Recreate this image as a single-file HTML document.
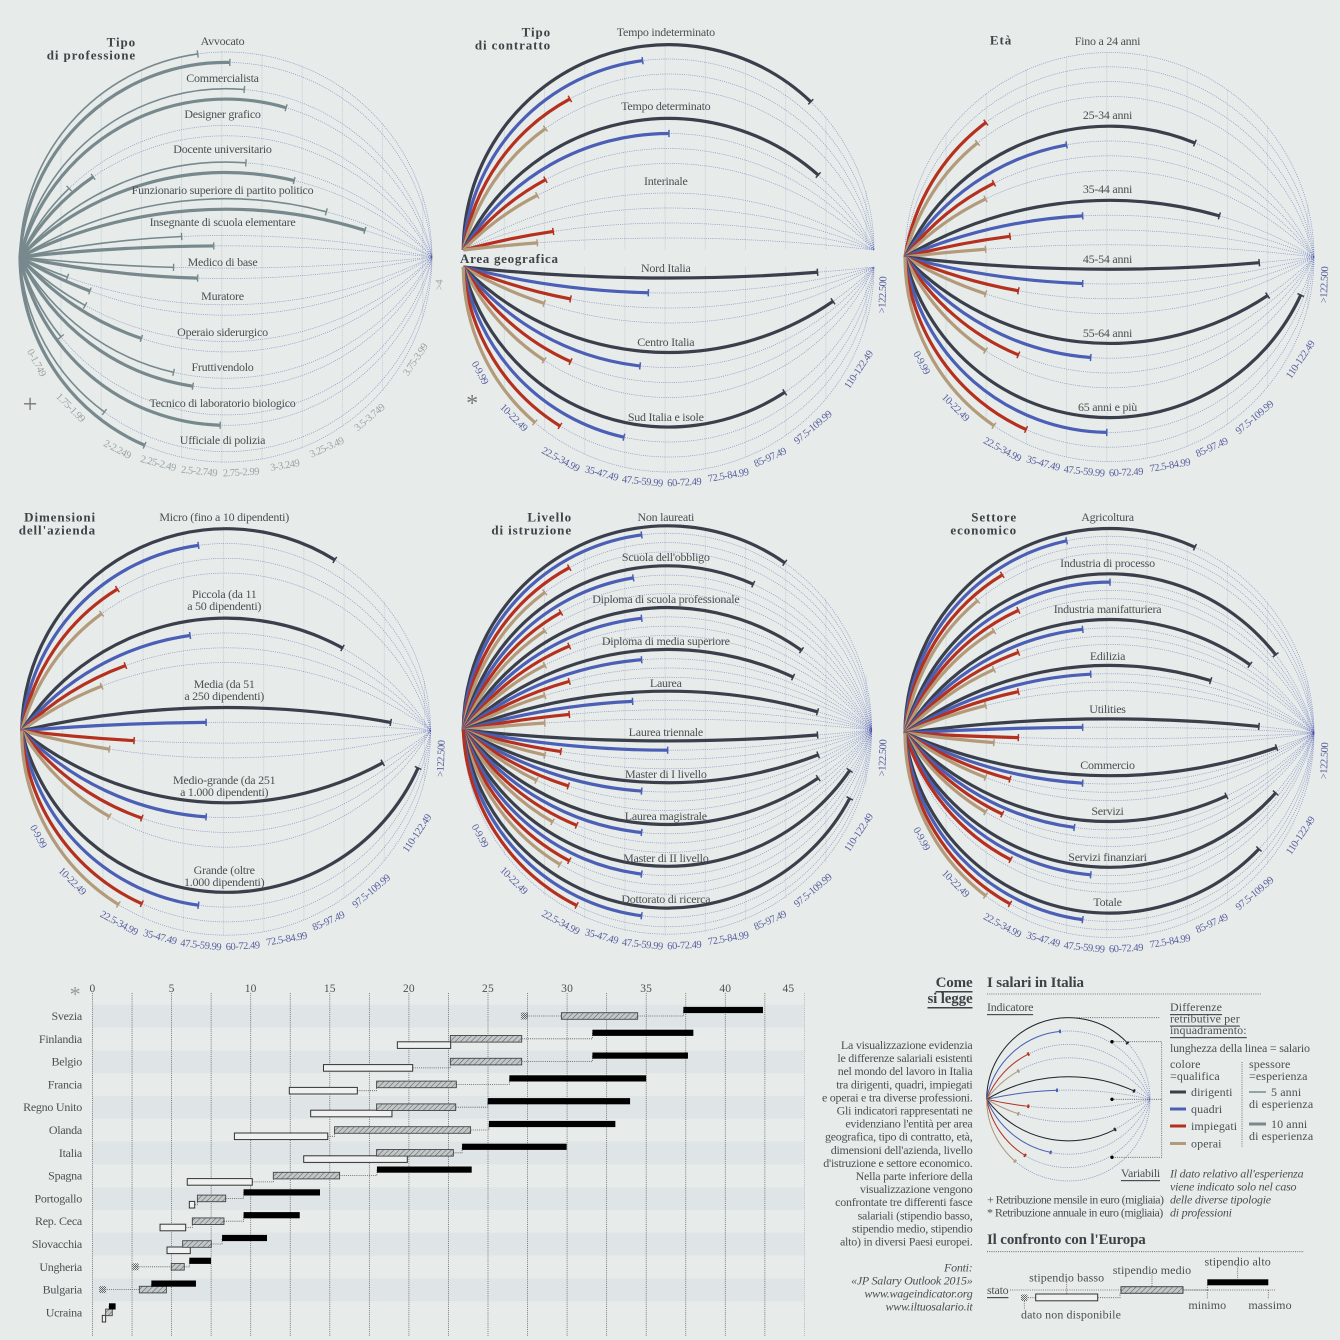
<!DOCTYPE html>
<html lang="it">
<head>
<meta charset="utf-8">
<title>I salari in Italia</title>
<style>
html,body{margin:0;padding:0;background:#e7ecea;}
svg{display:block;}
text{font-family:"Liberation Serif",serif;fill:#4b5053;font-size:12px;letter-spacing:-.25px;dominant-baseline:central;}
.title{font-weight:bold;font-size:13px;letter-spacing:.9px;fill:#3d4346;}
.h2{font-weight:bold;font-size:15px;letter-spacing:-.15px;fill:#3d4346;}
.u{text-decoration:underline;}
.i{font-style:italic;}
.end{text-anchor:end;}
.mid{text-anchor:middle;}
.w{letter-spacing:.1px;}
.n{letter-spacing:-.55px;}
</style>
</head>
<body>
<svg id="chart" xmlns="http://www.w3.org/2000/svg" width="1340" height="1340" viewBox="0 0 1340 1340">
<defs>
<pattern id="hatch" width="3.7" height="3.7" patternUnits="userSpaceOnUse" patternTransform="rotate(45)">
<rect width="3.7" height="3.7" fill="#c2c8c8"/>
<line x1="0" y1="0" x2="0" y2="3.7" stroke="#555b5e" stroke-width="1"/>
</pattern>
<pattern id="ndhatch" width="2" height="2" patternUnits="userSpaceOnUse">
<rect width="1" height="1" fill="#666"/><rect x="1" y="1" width="1" height="1" fill="#666"/>
</pattern>
</defs>
<rect width="1340" height="1340" fill="#e7ecea"/>
<g id="panels"></g>
<g id="bars"></g>

<g>
<text class="title end" x="136" y="42">Tipo</text>
<text class="title end" x="136" y="55">di professione</text>
<text class="title end" x="551" y="32">Tipo</text>
<text class="title end" x="551" y="45">di contratto</text>
<text class="title" x="460" y="258.5" style="letter-spacing:.7px">Area geografica</text>
<text class="title mid" x="1001" y="40">Età</text>
<text class="title end" x="96" y="517">Dimensioni</text>
<text class="title end" x="96" y="530">dell'azienda</text>
<text class="title end" x="572" y="517">Livello</text>
<text class="title end" x="572" y="530">di istruzione</text>
<text class="title end" x="1017" y="517">Settore</text>
<text class="title end" x="1017" y="530">economico</text>
<text x="30" y="404" class="mid" style="font-size:26px;fill:#777">+</text>
<text x="472" y="404" class="mid" style="font-size:24px;fill:#777">*</text>
<text x="75" y="994" class="mid" style="font-size:22px;fill:#999">*</text>
</g>

<g id="legend">
<text class="h2 end u" x="972.5" y="983">Come</text>
<text class="h2 end u" x="972.5" y="999">si legge</text>
<text class="end" y="1045"><tspan x="972.5">La visualizzazione evidenzia</tspan><tspan x="972.5" dy="13.1">le differenze salariali esistenti</tspan><tspan x="972.5" dy="13.1">nel mondo  del lavoro in Italia</tspan><tspan x="972.5" dy="13.1">tra dirigenti, quadri, impiegati</tspan><tspan x="972.5" dy="13.1">e operai e tra diverse professioni.</tspan><tspan x="972.5" dy="13.1">Gli indicatori rappresentati ne</tspan><tspan x="972.5" dy="13.1">evidenziano l'entità per area</tspan><tspan x="972.5" dy="13.1">geografica, tipo di contratto, età,</tspan><tspan x="972.5" dy="13.1">dimensioni dell'azienda, livello</tspan><tspan x="972.5" dy="13.1">d'istruzione e settore economico.</tspan><tspan x="972.5" dy="13.1">Nella parte inferiore della</tspan><tspan x="972.5" dy="13.1">visualizzazione vengono</tspan><tspan x="972.5" dy="13.1">confrontate tre differenti fasce</tspan><tspan x="972.5" dy="13.1">salariali (stipendio basso,</tspan><tspan x="972.5" dy="13.1">stipendio medio, stipendio</tspan><tspan x="972.5" dy="13.1">alto) in diversi Paesi europei.</tspan></text>
<text class="end i" y="1267.3"><tspan x="972.5">Fonti:</tspan><tspan x="972.5" dy="13.1">«JP Salary Outlook 2015»</tspan><tspan x="972.5" dy="13.1">www.wageindicator.org</tspan><tspan x="972.5" dy="13.1">www.iltuosalario.it</tspan></text>

<text class="h2" x="987" y="983">I salari in Italia</text>
<line x1="987" y1="994" x2="1262" y2="994" stroke="#555" stroke-width=".8" stroke-dasharray="1 1.2"/>
<text class="u" x="987" y="1007">Indicatore</text>
<g id="mini"></g>
<g fill="none" stroke="#555" stroke-width=".8" stroke-dasharray="1 1.2">
<path d="M1068 1017.7H1160"/>
<path d="M1112 1041.7H1161.7V1157.3H1112M1112 1099.3H1161.7"/>
</g>
<circle cx="1112" cy="1041.7" r="1.7" fill="#000"/>
<circle cx="1112" cy="1099.3" r="1.7" fill="#000"/>
<circle cx="1112" cy="1157.3" r="1.7" fill="#000"/>
<text class="u end" x="1160" y="1173">Variabili</text>
<text class="u w" x="1170" y="1007">Differenze</text>
<text class="u w" x="1170" y="1018.5">retributive per</text>
<text class="u w" x="1170" y="1030">inquadramento:</text>
<text x="1170" y="1048" style="letter-spacing:-.2px">lunghezza della linea = salario</text>
<text class="w" x="1170" y="1064">colore</text>
<text class="w" x="1170" y="1076">=qualifica</text>
<line x1="1170" x2="1186" y1="1092" y2="1092" stroke="#3a3f4b" stroke-width="3"/>
<text class="w" x="1191" y="1092">dirigenti</text>
<line x1="1170" x2="1186" y1="1109" y2="1109" stroke="#4a5fb5" stroke-width="3"/>
<text class="w" x="1191" y="1109">quadri</text>
<line x1="1170" x2="1186" y1="1126" y2="1126" stroke="#b5301f" stroke-width="3"/>
<text class="w" x="1191" y="1126">impiegati</text>
<line x1="1170" x2="1186" y1="1143.5" y2="1143.5" stroke="#b39a7a" stroke-width="3"/>
<text class="w" x="1191" y="1143.5">operai</text>
<line x1="1242" x2="1242" y1="1062" y2="1147" stroke="#555" stroke-width=".8" stroke-dasharray="1 1.2"/>
<text class="w" x="1249" y="1064">spessore</text>
<text class="w" x="1249" y="1076">=esperienza</text>
<line x1="1249" x2="1266" y1="1092" y2="1092" stroke="#78898e" stroke-width="1.4"/>
<text class="w" x="1271" y="1092">5 anni</text>
<text class="w" x="1249" y="1104">di esperienza</text>
<line x1="1249" x2="1266" y1="1124" y2="1124" stroke="#78898e" stroke-width="3"/>
<text class="w" x="1271" y="1124">10 anni</text>
<text class="w" x="1249" y="1136">di esperienza</text>
<text class="n" x="987" y="1199.3">+ Retribuzione mensile in euro (migliaia)</text>
<text class="n" x="987" y="1212.7">* Retribuzione annuale in euro (migliaia)</text>
<text class="i" y="1173.3"><tspan x="1170">Il dato relativo all'esperienza</tspan><tspan x="1170" dy="13">viene indicato solo nel caso</tspan><tspan x="1170" dy="13">delle diverse tipologie</tspan><tspan x="1170" dy="13">di professioni</tspan></text>
<text class="h2" x="987" y="1240">Il confronto con l'Europa</text>
<line x1="987" y1="1251.7" x2="1304" y2="1251.7" stroke="#555" stroke-width=".8" stroke-dasharray="1 1.2"/>
<text class="u" x="987" y="1290">stato</text>
<line x1="1010" y1="1290" x2="1275" y2="1290" stroke="#555" stroke-width=".8" stroke-dasharray="1 1.2"/>
<path d="M1028 1297.7H1035.7M1097.7 1297.7H1120V1293M1183 1290H1207.3V1285M1024.3 1301V1309M1066.7 1279.5V1294M1152 1272V1286.7M1237.7 1264V1279.3M1207.3 1290V1299M1268.3 1290V1299" fill="none" stroke="#555" stroke-width=".8" stroke-dasharray="1 1.2"/>
<rect x="1021" y="1294.5" width="6.5" height="6.5" fill="url(#ndhatch)"/>
<rect x="1035.7" y="1294" width="62" height="6.8" fill="#eef1ef" stroke="#333"/>
<rect x="1121" y="1286.7" width="62" height="6.6" fill="url(#hatch)" stroke="#444"/>
<rect x="1207.3" y="1279.3" width="61" height="6" fill="#000"/>
<text class="mid w" x="1066.7" y="1277.7">stipendio basso</text>
<text class="mid w" x="1152" y="1270">stipendio medio</text>
<text class="mid w" x="1237.7" y="1261.7">stipendio alto</text>
<text class="mid w" x="1207.3" y="1305">minimo</text>
<text class="mid w" x="1270" y="1305">massimo</text>
<text class="w" x="1021" y="1314.3">dato non disponibile</text>
</g>
</svg>

<script>
// ---------- axis labels ----------
const monthlyTicks = ['0-1.749','1.75-1.99','2-2.249','2.25-2.49','2.5-2.749','2.75-2.99','3-3.249','3.25-3.49','3.5-3.749','3.75-3.99','>4'];
const annualTicks = ['0-9.99','10-22.49','22.5-34.99','35-47.49','47.5-59.99','60-72.49','72.5-84.99','85-97.49','97.5-109.99','110-122.49','>122.500'];

// ---------- tipo di professione (monthly, thousand euro) ----------
const professionCats = ['Avvocato','Commercialista','Designer grafico','Docente universitario','Funzionario superiore di partito politico','Insegnante di scuola elementare','Medico di base','Muratore','Operaio siderurgico','Fruttivendolo','Tecnico di laboratorio biologico','Ufficiale di polizia'];
const professionExp5 = [2.60,2.89,1.80,2.90,3.40,2.50,2.45,1.79,1.90,2.45,1.75,2.02];
const professionExp10 = [2.80,3.15,1.95,3.20,3.64,2.70,2.60,1.93,2.25,2.57,2.74,2.27];

// ---------- tipo di contratto (annual, thousand euro) ----------
const contractCats = ['Tempo indeterminato','Tempo determinato','Interinale'];
const contractDirigenti = [105.3,107.6,null];
const contractQuadri = [53.0,61.2,null];
const contractImpiegati = [30.4,22.8,25.2];
const contractOperai = [22.8,20.25,20.25];

// ---------- area geografica ----------
const areaCats = ['Nord Italia','Centro Italia','Sud Italia e isole'];
const areaDirigenti = [107.4,112.2,97.2];
const areaQuadri = [54.8,52.2,47.2];
const areaImpiegati = [30.6,30.6,27.3];
const areaOperai = [22.4,22.4,19.5];

// ---------- età ----------
const ageCats = ['Fino a 24 anni','25-34 anni','35-44 anni','45-54 anni','55-64 anni','65 anni e più'];
const ageDirigenti = [null,87.4,95,107.4,110,120.3];
const ageQuadri = [null,47.5,52.5,52.5,55,60];
const ageImpiegati = [22.4,24.9,29.9,32.5,32.5,34.9];
const ageOperai = [19.8,22.3,22.3,22.3,22.3,24.9];

// ---------- dimensioni dell'azienda ----------
const sizeCats = ['Micro (fino a 10 dipendenti)','Piccola (da 11\na 50 dipendenti)','Media (da 51\na 250 dipendenti)','Medio-grande (da 251\na 1.000 dipendenti)','Grande (oltre\n1.000 dipendenti)'];
const sizeDirigenti = [94.6,97,112,109.5,120.5];
const sizeQuadri = [52.2,49.6,54.6,54.6,52.2];
const sizeImpiegati = [27,29.5,32.2,34.6,34.6];
const sizeOperai = [22.1,22.1,24.5,24.5,27.3];

// ---------- livello di istruzione ----------
const eduCats = ['Non laureati',"Scuola dell'obbligo",'Diploma di scuola professionale','Diploma di media superiore','Laurea','Laurea triennale','Master di I livello','Laurea magistrale','Master di II livello','Dottorato di ricerca'];
const eduDirigenti = [97.2,87.4,102.4,99.8,107.4,107.4,107.6,107.6,117.4,117.4];
const eduQuadri = [52.7,50.1,52.7,52.7,49.9,60.8,52.7,52.7,52.7,52.7];
const eduImpiegati = [30.2,27.6,30.2,30.2,30.2,27.6,29.9,32.5,30.2,32.5];
const eduOperai = [22.6,22.6,22.6,22.6,22.6,22.6,20,25,27.3,null];

// ---------- settore economico ----------
const sectorCats = ['Agricoltura','Industria di processo','Industria manifatturiera','Edilizia','Utilities','Commercio','Servizi','Servizi finanziari','Totale'];
const sectorDirigenti = [87.4,112.5,104.5,92.3,107.3,112.8,97.2,112.5,107.3];
const sectorQuadri = [47.5,61,52.5,55,52.5,52.5,49.9,55,52.5];
const sectorImpiegati = [27.5,32.5,32.5,32.5,32.5,29.9,27.5,30.1,29.9];
const sectorOperai = [19.8,24.9,24.9,22.3,24.9,22.3,22.3,null,22.3];

// ---------- legend mini chart ----------
const miniDirigenti = [107.3,112.5,97.6];
const miniQuadri = [54.6,52.3,47.3];
const miniImpiegati = [29.8,29.8,27.2];
const miniOperai = [22,22,19.4];

// ---------- europe (annual, thousand euro) ----------
const countries = ['Svezia','Finlandia','Belgio','Francia','Regno Unito','Olanda','Italia','Spagna','Portogallo','Rep. Ceca','Slovacchia','Ungheria','Bulgaria','Ucraina'];
const lowMin = [27.3,19.27,14.6,12.44,13.79,8.97,13.35,5.99,6.12,4.27,4.71,2.7,0.64,0.62];
const lowMax = [null,22.64,20.24,16.74,18.93,14.87,19.9,10.1,6.46,5.89,6.18,null,null,0.83];
const midMin = [29.64,22.62,22.62,17.96,17.96,15.3,17.96,11.43,6.63,6.31,5.7,4.98,2.96,0.83];
const midMax = [34.46,27.13,27.13,23.0,22.96,23.9,22.81,15.62,8.42,8.31,7.51,5.8,4.67,1.25];
const highMin = [37.35,31.6,31.6,26.35,24.98,25.06,23.36,17.98,9.55,9.55,8.19,6.12,3.72,1.04];
const highMax = [42.38,37.98,37.64,35.0,33.98,33.05,29.97,23.97,14.38,13.1,11.03,7.49,6.54,1.46];
const axisTicks = [0,5,10,15,20,25,30,35,40,45];

// ---------- drawing ----------
const NS = 'http://www.w3.org/2000/svg';
const COL4 = ['#3a3f4b','#4a5fb5','#b5301f','#b39a7a'];
const COL2 = ['#78898e','#78898e'];
const tickDx = [16,50,97,138,179,221,265,307,350,396,420];
const tickDy = [106,151,193,207,215,216,209,191,161,103,28];
const tickRot = [62,45,28,15,6,-3,-10,-24,-40,-56,-88];

function mk(tag, attrs, parent, txt){
  const e = document.createElementNS(NS, tag);
  for (const k in attrs) e.setAttribute(k, attrs[k]);
  if (txt !== undefined) e.textContent = txt;
  parent.appendChild(e);
  return e;
}
const scaleAnnual = v => v < 10 ? v * 4.1 : 41 + (v - 10) / 12.5 * 40.2;
const scaleMonthly = v => v < 1.75 ? v / 1.75 * 41 : 41 + (v - 1.75) / 0.25 * 40.2;

function apex(cfg, g, j, nG, nL){
  let off;
  const inTop = cfg.side === 'top' || (cfg.side !== 'bottom' && g < (nG - 1) / 2);
  if (!cfg.side && nG % 2 === 1 && g === (nG - 1) / 2){
    const d = j - (nL - 1) / 2;
    off = d * cfg.s + Math.sign(d) * cfg.midGap / 2;
  } else if (inTop){
    off = -cfg.rad + g * cfg.gs + j * cfg.s;
  } else {
    off = cfg.rad - (nG - 1 - g) * cfg.gs - (nL - 1 - j) * cfg.s;
  }
  return off + (cfg.shift || 0);
}

function drawPanel(host, panelName, cats, series, cfg){
  const root = mk('g', {}, host);
  
  
  const a = (cfg.xr - cfg.xl) / 2;
  const mx = cfg.xl + a;
  const factor = cfg.factor || 1;
  const nL = series.length;
  const nG = cats.length;
  const gridRad = Math.max(a, cfg.rad);
  if (!cfg.noGrid) {
    for (let k = 1; k <= 10; k++){
      const x = cfg.xl + 40.2 * k + 0.8;
      const h = Math.sqrt(Math.max(0, gridRad * gridRad - (x - mx) * (x - mx)));
      const y1 = cfg.side === 'bottom' ? cfg.cy : cfg.cy - h;
      const y2 = cfg.side === 'top' ? cfg.cy : cfg.cy + h;
      const gl = mk('line', {x1:x, x2:x, y1:y1, y2:y2, stroke:'#c7d0da', 'stroke-width':.9, 'stroke-dasharray':'1 .6'}, root);
      
      
    }
  }
  const curves = [];
  for (let g = 0; g < nG; g++){
    for (let j = 0; j < nL; j++){
      const off = apex(cfg, g, j, nG, nL);
      const s = Math.min(a, Math.max(0.4, Math.abs(off)));
      const up = off < 0;
      const r = (a * a + s * s) / (2 * s);
      const cyc = up ? cfg.cy + (r - s) : cfg.cy - (r - s);
      curves.push({g, j, up, r, cyc});
      const dot = mk('path', {d:`M${cfg.xl} ${cfg.cy}A${r} ${r} 0 0 ${up?1:0} ${cfg.xr} ${cfg.cy}`, fill:'none', stroke:'#3f4aa8', 'stroke-width':cfg.dotW||.75, 'stroke-dasharray':'1 1.15', 'stroke-opacity':cfg.dotO||.55}, root);
      
      
    }
  }
  curves.forEach(c => {
    const v = series[c.j][c.g];
    if (v === null) return;
    const x = cfg.xl + cfg.scale(v) * factor;
    const dx = x - mx;
    const h = Math.sqrt(Math.max(0, c.r * c.r - dx * dx));
    const y = c.up ? c.cyc - h : c.cyc + h;
    const line = mk('path', {d:`M${cfg.xl} ${cfg.cy}A${c.r} ${c.r} 0 0 ${c.up?1:0} ${x} ${y}`, fill:'none', stroke:cfg.colors[c.j], 'stroke-width':cfg.widths[c.j]}, root);
    
    
    const nx = dx / c.r, ny = (y - c.cyc) / c.r, t = cfg.tick || 3.6;
    const tick = mk('line', {x1:x - nx * t, y1:y - ny * t, x2:x + nx * t, y2:y + ny * t, stroke:cfg.colors[c.j], 'stroke-width':cfg.tickW || 1.5}, root);
    
    
  });
  if (cfg.labelY) {
    cats.forEach((cat, g) => {
      const lines = cat.split('\n');
      lines.forEach((ln, i) => {
        const tx = mk('text', {x:cfg.xl + 202.5, y:cfg.labelY[g] + i * 12, class:'mid'}, root, ln);
        
        
      });
    });
  }
  if (cfg.ticks) {
    const tickY = cfg.tickCy === undefined ? cfg.cy : cfg.tickCy;
    cfg.ticks.forEach((t, i) => {
      const x = cfg.xl + tickDx[i], y = tickY + tickDy[i];
      const tx = mk('text', {x, y, class:'mid', transform:`rotate(${tickRot[i]} ${x} ${y})`, style:`font-size:10.5px;letter-spacing:-.45px;fill:${cfg.tickColor}`}, root, t);
      
      
    });
  }
}

const W4 = [3.2,3.2,3.2,3.2];
const host = document.getElementById('panels');
drawPanel(host, 'panel-tipo-di-professione', professionCats, [professionExp5, professionExp10], {
  xl:20, xr:432, cy:257, rad:205, gs:36.7, s:10.4, midGap:0, scale:scaleMonthly, colors:COL2, widths:[1.6,3.2], tickW:1.4,
  labelY:[41,78,114,149,190,222,262,296,332,367,403,440], ticks:monthlyTicks, tickColor:'#9aa3a6'});
drawPanel(host, 'panel-tipo-di-contratto', contractCats, [contractDirigenti, contractQuadri, contractImpiegati, contractOperai], {
  xl:463.3, xr:874, cy:250, rad:206, gs:74.5, s:15, side:'top', scale:scaleAnnual, colors:COL4, widths:W4,
  labelY:[32,106,181]});
drawPanel(host, 'panel-area-geografica', areaCats, [areaDirigenti, areaQuadri, areaImpiegati, areaOperai], {
  xl:463.3, xr:874, cy:267, rad:205, gs:74.5, s:15, side:'bottom', scale:scaleAnnual, colors:COL4, widths:W4,
  labelY:[268,342,417], ticks:annualTicks, tickColor:'#5a5f9f'});
drawPanel(host, 'panel-eta', ageCats, [ageDirigenti, ageQuadri, ageImpiegati, ageOperai], {
  xl:905, xr:1314, cy:257, rad:205, gs:74.2, s:14.8, scale:scaleAnnual, colors:COL4, widths:W4,
  labelY:[41,115,189,259,333,407], ticks:annualTicks, tickColor:'#5a5f9f'});
drawPanel(host, 'panel-dimensioni-azienda', sizeCats, [sizeDirigenti, sizeQuadri, sizeImpiegati, sizeOperai], {
  xl:21.7, xr:430.7, cy:730.7, rad:204, shift:2, gs:89.5, s:14.8, midGap:6, scale:scaleAnnual, colors:COL4, widths:W4,
  labelY:[517,594,684,780,870], ticks:annualTicks, tickColor:'#5a5f9f'});
drawPanel(host, 'panel-livello-istruzione', eduCats, [eduDirigenti, eduQuadri, eduImpiegati, eduOperai], {
  xl:463.3, xr:871.7, cy:730, rad:206, gs:41.8, s:9.3, scale:scaleAnnual, colors:COL4, widths:W4,
  labelY:[517,557,599,641,683,732,774,816,858,899], ticks:annualTicks, tickColor:'#5a5f9f'});
drawPanel(host, 'panel-settore-economico', sectorCats, [sectorDirigenti, sectorQuadri, sectorImpiegati, sectorOperai], {
  xl:905, xr:1314, cy:733, rad:205, gs:45.8, s:8.3, midGap:3.3, scale:scaleAnnual, colors:COL4, widths:W4,
  labelY:[517,563,609,656,709,765,811,857,902], ticks:annualTicks, tickColor:'#5a5f9f'});
drawPanel(document.getElementById('mini'), 'legend-mini-radial', ['a','b','c'], [miniDirigenti, miniQuadri, miniImpiegati, miniOperai], {
  xl:986.7, xr:1150, cy:1099.3, rad:81.7, gs:29.2, s:13.4, midGap:5, factor:.3976, noGrid:true, scale:scaleAnnual, colors:['#22262e','#4a5fb5','#b5301f','#b39a7a'], widths:[1,1,1,1], tick:1.8, tickW:2, dotW:.9, dotO:.55});

// europe bars
const bars = document.getElementById('bars');
const bx = v => 92.5 + v * 15.82;
const rowY = i => 1016 + 22.8 * i;
countries.forEach((c, i) => {
  if (i % 2 === 0){
    const band = mk('rect', {x:92.5, y:rowY(i) - 11.2, width:711.5, height:22.8, fill:'#dfe4e6'}, bars);
    
    
  }
});
for (let k = 0; k <= 18; k++){
  const x = bx(k * 2.5);
  const gl = mk('line', {x1:x, x2:x, y1:993, y2:1336, stroke:k === 18 ? '#aab' : '#5c6264', 'stroke-width':.8, 'stroke-dasharray':'1 1.1'}, bars);
  
  
}
axisTicks.forEach(t => {
  const lab = mk('text', {x:bx(t) - (t === 45 ? 16 : 0), y:989, class:'mid', style:'font-size:11.5px;letter-spacing:.2px'}, bars, t);
  
  
});
countries.forEach((c, i) => {
  const cy = rowY(i);
  const lab = mk('text', {x:82, y:cy, class:'end'}, bars, c);
  
  
  const yHigh = cy - 6, yMid = cy, yLow = cy + 6.3;
  const hasLow = lowMax[i] !== null;
  const conn = mk('path', {d:(hasLow
      ? `M${bx(lowMax[i])} ${yLow}H${bx(midMin[i])}V${yMid}`
      : `M${bx(lowMin[i])} ${yMid}H${bx(midMin[i])}`) + `M${bx(midMax[i])} ${yMid}H${bx(highMin[i])}V${yHigh}`,
    fill:'none', stroke:'#555', 'stroke-width':.8, 'stroke-dasharray':'1 1.1'}, bars);
  
  
  if (hasLow){
    const low = mk('rect', {x:bx(lowMin[i]), y:yLow - 3.3, width:bx(lowMax[i]) - bx(lowMin[i]), height:6.6, fill:'#eef1ef', stroke:'#333', 'stroke-width':1}, bars);
    
    
  } else {
    const nd = mk('rect', {x:bx(lowMin[i]) - 3.5, y:yMid - 3.5, width:7, height:7, fill:'url(#ndhatch)'}, bars);
    
    
  }
  const mid = mk('rect', {x:bx(midMin[i]), y:yMid - 3.3, width:bx(midMax[i]) - bx(midMin[i]), height:6.6, fill:'url(#hatch)', stroke:'#444', 'stroke-width':.9}, bars);
  
  
  const high = mk('rect', {x:bx(highMin[i]), y:yHigh - 3.1, width:bx(highMax[i]) - bx(highMin[i]), height:6.2, fill:'#000'}, bars);
  
  
});
</script>
</body>
</html>
